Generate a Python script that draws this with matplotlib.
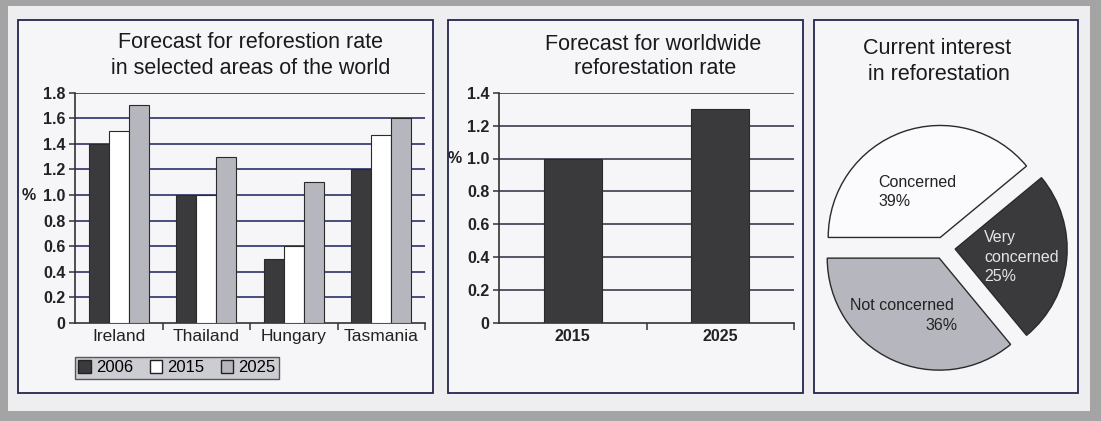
import numpy as np
import matplotlib
matplotlib.use("Agg")
import matplotlib.pyplot as plt
from matplotlib.patches import Rectangle, Patch

plt.rcParams['font.family'] = ['Liberation Sans', 'DejaVu Sans']

# data
regions = ['Ireland', 'Thailand', 'Hungary', 'Tasmania']
years = ['2006', '2015', '2025']
rate_2006 = [1.4, 1.0, 0.5, 1.2]
rate_2015 = [1.5, 1.0, 0.6, 1.47]
rate_2025 = [1.7, 1.3, 1.1, 1.6]

world_years = ['2015', '2025']
world_rate = [1.0, 1.3]

interest_labels = ['Concerned', 'Very\nconcerned', 'Not concerned']
interest_share = [39, 25, 36]

W, H = 1101, 421
DARK = '#3a3a3c'
LIGHT = '#b6b6be'
GRID = '#2c3068'
FRAME = '#23264e'


def fx(x):
    return x / W


def fy(y):
    return 1 - y / H


fig = plt.figure(figsize=(W / 100, H / 100), dpi=100, facecolor='#a4a4a4')

# scanned page + panel boxes
fig.add_artist(Rectangle((fx(8), fy(411)), fx(1090) - fx(8), fy(6) - fy(411),
                         transform=fig.transFigure, facecolor='#eeeef0', edgecolor='none', zorder=0))
for x0, x1 in [(18, 433), (448, 803), (814, 1078)]:
    fig.add_artist(Rectangle((fx(x0), fy(393)), fx(x1) - fx(x0), fy(20) - fy(393),
                             transform=fig.transFigure, facecolor='#f6f6f9', edgecolor=FRAME,
                             linewidth=1.3, zorder=0))

# titles
for txt, x, y in [('Forecast for reforestion rate', 250, 43), ('in selected areas of the world', 251, 68),
                  ('Forecast for worldwide', 653, 44), ('reforestation rate', 655, 69),
                  ('Current interest', 937, 49), ('in reforestation', 939, 74)]:
    fig.text(fx(x), fy(y), txt, ha='center', va='center', fontsize=15.5, color='#1a1a1a')


def style_axis(ax, ymax, gridc):
    ax.set_facecolor('none')
    ax.set_ylim(0, ymax)
    ticks = np.round(np.arange(0, ymax + 0.01, 0.2), 1)
    ax.set_yticks(ticks)
    ax.set_yticklabels(['0' if t == 0 else f'{t:.1f}' for t in ticks], fontsize=11.5, fontweight='bold', color='#222')
    for t in ticks[1:]:
        ax.axhline(t, color=gridc, linewidth=1.2, zorder=1)
    for s in ['top', 'right']:
        ax.spines[s].set_visible(False)
    for s in ['left', 'bottom']:
        ax.spines[s].set_color('#333')
        ax.spines[s].set_linewidth(1.2)
    ax.tick_params(axis='y', length=4, width=1.1, color='#333', pad=3)
    ax.tick_params(axis='x', which='major', length=0, pad=4)
    ax.tick_params(axis='x', which='minor', length=5, width=1.1, color='#333')


# panel 1: grouped bars
ax1 = fig.add_axes([fx(75), fy(323), fx(425) - fx(75), fy(92.7) - fy(323)])
x = np.arange(len(regions))
bw = 0.23
for off, vals, col in [(-bw, rate_2006, DARK), (0, rate_2015, 'white'), (bw, rate_2025, LIGHT)]:
    ax1.bar(x + off, vals, bw, color=col, edgecolor='#2a2a2a', linewidth=0.8, zorder=3)
ax1.set_xlim(-0.5, len(regions) - 0.5)
style_axis(ax1, 1.8, GRID)
ax1.set_xticks(x)
ax1.set_xticklabels(regions, fontsize=12.5, color='#222')
ax1.set_xticks(x + 0.5, minor=True)
fig.text(fx(29), fy(196), '%', ha='center', va='center', fontsize=11.5, fontweight='bold', color='#222')

handles = [Patch(facecolor=DARK, edgecolor='#222'), Patch(facecolor='white', edgecolor='#222'),
           Patch(facecolor=LIGHT, edgecolor='#222')]
leg = fig.legend(handles, years, loc='upper left', bbox_to_anchor=(fx(75), fy(357)), ncol=3,
                 fontsize=12, frameon=True, fancybox=False, handlelength=0.75, handleheight=0.75,
                 handletextpad=0.3, columnspacing=1.0, borderpad=0.2, borderaxespad=0)
leg.get_frame().set_facecolor('#c2c2ca')
leg.get_frame().set_edgecolor('#333')
leg.get_frame().set_linewidth(1.0)

# panel 2: worldwide bars
ax2 = fig.add_axes([fx(499), fy(323), fx(794) - fx(499), fy(92.7) - fy(323)])
x2 = np.arange(len(world_years))
ax2.bar(x2, world_rate, 0.39, color=DARK, edgecolor='#2a2a2a', linewidth=0.8, zorder=3)
ax2.set_xlim(-0.5, len(world_years) - 0.5)
style_axis(ax2, 1.4, '#3a3c52')
ax2.set_xticks(x2)
ax2.set_xticklabels(world_years, fontsize=11.5, fontweight='bold', color='#222')
ax2.set_xticks(x2 + 0.5, minor=True)
fig.text(fx(455), fy(159), '%', ha='center', va='center', fontsize=11.5, fontweight='bold', color='#222')

# panel 3: pie
R = 112
side = 2.5 * R
ax3 = fig.add_axes([fx(944 - side / 2), fy(248 + side / 2), side / W, side / H])
ax3.pie(interest_share, colors=['#fbfbfd', DARK, LIGHT], startangle=180, counterclock=False,
        explode=[0.1, 0.1, 0.1], wedgeprops=dict(edgecolor='#2a2a2a', linewidth=1.0))
ax3.set_xlim(-1.25, 1.25)
ax3.set_ylim(-1.25, 1.25)
ax3.set_aspect('equal')
ax3.axis('off')

fig.text(fx(878), fy(192), f'{interest_labels[0]}\n{interest_share[0]}%', ha='left', va='center',
         fontsize=11.5, color='#222', linespacing=1.4)
fig.text(fx(984), fy(257), f'{interest_labels[1]}\n{interest_share[1]}%', ha='left', va='center',
         fontsize=11.5, color='#e4e4e8', linespacing=1.4)
fig.text(fx(850), fy(306), interest_labels[2], ha='left', va='center', fontsize=11.5, color='#222')
fig.text(fx(925), fy(325), f'{interest_share[2]}%', ha='left', va='center', fontsize=11.5, color='#222')

fig.savefig('out.png', dpi=100, facecolor=fig.get_facecolor())
